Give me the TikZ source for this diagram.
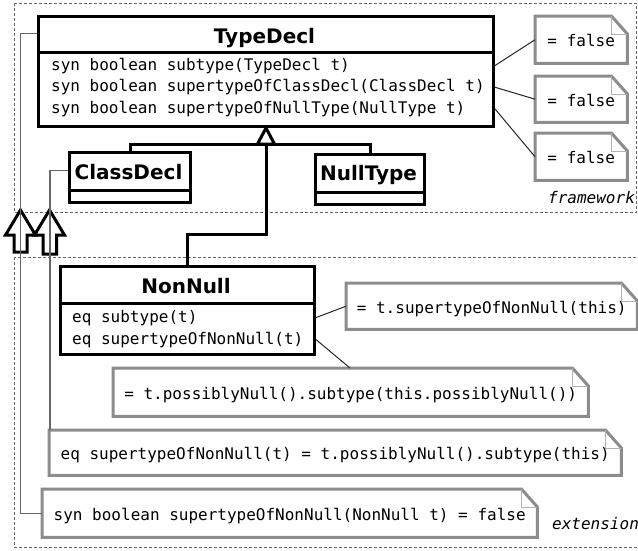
\documentclass[tikz,border=0pt]{standalone}
\usepackage{fontspec}
\setmainfont{DejaVu Sans}
\newfontfamily\monof{DejaVu Sans Mono}
\usetikzlibrary{calc}
\tikzset{
 clsbox/.style={draw=black, line width=3pt, inner sep=0pt, anchor=north west},
 ttl/.style={font=\fontsize{20}{24}\selectfont\bfseries, inner sep=0pt, anchor=base},
 mth/.style={font=\monof\fontsize{16}{19}\selectfont, inner sep=0pt, anchor=base west},
 notebox/.style={font=\monof\fontsize{16}{19}\selectfont, inner sep=0pt, anchor=north west, text height=15pt, text depth=1pt},
 notebdr/.style={draw=black!45, line width=3pt, line join=miter},
 foldln/.style={draw=black!30, line width=1pt},
 conn/.style={draw=black!85, line width=1pt},
 grayln/.style={draw=black!60, line width=1.3pt},
 inh/.style={draw=black, line width=3pt},
 pkgbox/.style={draw=black!60, line width=1pt, dash pattern=on 3pt off 2pt},
 blockarrow/.style={draw=black, line width=3pt, fill=white, line join=miter},
 pkglabel/.style={font=\monof\itshape\fontsize{16}{19}\selectfont, inner sep=0pt, anchor=base west},
}
\newcommand\foldnote[1]{%
  \draw[notebdr] (#1.north west) -- ([xshift=-16pt]#1.north east) -- ([yshift=-18pt]#1.north east) -- (#1.south east) -- (#1.south west) -- cycle;
  \draw[foldln] ([xshift=-16pt]#1.north east) |- ([yshift=-18pt]#1.north east);
}
\begin{document}
\begin{tikzpicture}[x=1pt,y=-1pt]
\useasboundingbox (0,0) rectangle (638,550);
\clip (0,0) rectangle (638,550);

% package boxes
\draw[pkgbox] (14,3) rectangle (636.5,212);
\draw[pkgbox] (14,257) rectangle (660,547);
\node[pkglabel] (fwl) at (548,203) {framework};
\node[pkglabel] (exl) at (552,529) {extension};

% block arrows
\draw[blockarrow] (20.5,210) -- (35.5,235) -- (27,235) -- (27,252) -- (14,252) -- (14,235) -- (5.5,235) -- cycle;
\draw[blockarrow] (49.5,210) -- (64.5,235) -- (56.5,235) -- (56.5,254) -- (43,254) -- (43,235) -- (34.5,235) -- cycle;

% classes
\node[clsbox, minimum width=455pt, minimum height=110pt] (td) at (37,15) {};
\draw[inh] ([yshift=-37pt]td.north west) -- ([yshift=-37pt]td.north east);
\node[ttl] (tdt) at (264.5,43) {TypeDecl};
\node[mth] (tm1) at (51,70) {syn boolean subtype(TypeDecl t)};
\node[mth] (tm2) at (51,91.7) {syn boolean supertypeOfClassDecl(ClassDecl t)};
\node[mth] (tm3) at (51,113.4) {syn boolean supertypeOfNullType(NullType t)};

\node[clsbox, minimum width=121pt, minimum height=49.5pt] (cd) at (68,151) {};
\draw[inh] ([yshift=-39.5pt]cd.north west) -- ([yshift=-39.5pt]cd.north east);
\node[ttl] (cdt) at (128.5,179.5) {ClassDecl};

\node[clsbox, minimum width=109pt, minimum height=50.5pt] (nt) at (314,152.5) {};
\draw[inh] ([yshift=-39.5pt]nt.north west) -- ([yshift=-39.5pt]nt.north east);
\node[ttl] (ntt) at (368.5,180.5) {NullType};

\node[clsbox, minimum width=254pt, minimum height=88pt] (nn) at (59,265) {};
\draw[inh] ([yshift=-38pt]nn.north west) -- ([yshift=-38pt]nn.north east);
\node[ttl] (nnt) at (186,293.5) {NonNull};
\node[mth] (nm1) at (72,322) {eq subtype(t)};
\node[mth] (nm2) at (72,344) {eq supertypeOfNonNull(t)};

% inheritance
\coordinate (tb) at ([yshift=-16pt]td.south);
\draw[inh] (cd.north) |- (tb) -| (nt.north);
\draw[inh] (tb) -- ++(0,90) -| (nn.north);
\draw[inh, fill=white] (td.south) -- ([xshift=-8.5pt]tb) -- ([xshift=8.5pt]tb) -- cycle;

% notes
\node[notebox, minimum width=92pt, minimum height=47pt] (n1) at (535,16) {= false};
\node[notebox, minimum width=92pt, minimum height=46pt] (n2) at (535,76) {= false};
\node[notebox, minimum width=92pt, minimum height=47pt] (n3) at (535,133) {= false};
\node[notebox, minimum width=291pt, minimum height=46pt] (n4) at (346,283) {= t.supertypeOfNonNull(this)};
\node[notebox, minimum width=475pt, minimum height=48pt] (n5) at (113,368) {= t.possiblyNull().subtype(this.possiblyNull())};
\node[notebox, minimum width=572pt, minimum height=45pt] (n6) at (49,430) {eq supertypeOfNonNull(t) = t.possiblyNull().subtype(this)};
\node[notebox, minimum width=495pt, minimum height=48pt] (n7) at (42,489) {syn boolean supertypeOfNonNull(NonNull t) = false};
\foldnote{n1}\foldnote{n2}\foldnote{n3}\foldnote{n4}\foldnote{n5}\foldnote{n6}\foldnote{n7}

% note connectors
\draw[conn] (tm1 -| td.east) -- (n1.west);
\draw[conn] (tm2 -| td.east) -- (n2.west);
\draw[conn] (tm3 -| td.east) -- (n3.west);
\draw[conn] (nm1 -| nn.east) -- (n4.west);
\draw[conn] (nm2 -| nn.east) -- ([xshift=237pt]n5.north west);

% refinement lines
\draw[grayln] ([yshift=-18.5pt]td.north west) -- ++(-16.5,0) |- (n7.west);
\draw[grayln] ([yshift=-19.5pt]cd.north west) -| ([xshift=1pt]n6.north west);
\end{tikzpicture}
\end{document}
